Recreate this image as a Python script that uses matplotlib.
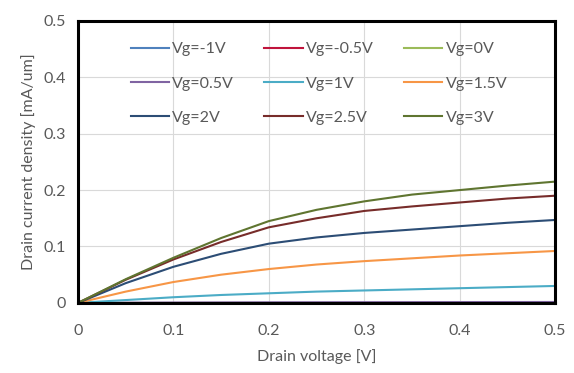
import numpy as np
import matplotlib.pyplot as plt

plt.rcParams['font.family'] = ['Lato', 'DejaVu Sans']

# drain voltage sweep [V]
vd = [0, 0.05, 0.1, 0.15, 0.2, 0.25, 0.3, 0.35, 0.4, 0.45, 0.5]

# drain current density [mA/um] per gate voltage
labels = ['Vg=-1V', 'Vg=-0.5V', 'Vg=0V', 'Vg=0.5V', 'Vg=1V', 'Vg=1.5V',
          'Vg=2V', 'Vg=2.5V', 'Vg=3V']
id_m1 = [0, 0, 0, 0, 0, 0, 0, 0, 0, 0, 0]
id_m05 = [0, 0, 0, 0, 0, 0, 0, 0, 0, 0, 0]
id_0 = [0, 0, 0, 0, 0, 0, 0, 0, 0, 0, 0]
id_05 = [0, 0.0003, 0.0006, 0.0008, 0.001, 0.0011, 0.0012, 0.0013, 0.0014, 0.0015, 0.0016]
id_1 = [0, 0.005, 0.010, 0.014, 0.017, 0.020, 0.022, 0.024, 0.026, 0.028, 0.030]
id_15 = [0, 0.020, 0.037, 0.050, 0.060, 0.068, 0.074, 0.079, 0.084, 0.088, 0.092]
id_2 = [0, 0.035, 0.064, 0.087, 0.105, 0.116, 0.124, 0.130, 0.136, 0.142, 0.147]
id_25 = [0, 0.041, 0.077, 0.108, 0.134, 0.150, 0.163, 0.171, 0.178, 0.185, 0.190]
id_3 = [0, 0.042, 0.080, 0.115, 0.145, 0.165, 0.180, 0.192, 0.200, 0.208, 0.215]

series = [id_m1, id_m05, id_0, id_05, id_1, id_15, id_2, id_25, id_3]
colors = ['#4F81BD', '#C0143C', '#9BBB59', '#8064A2', '#4BACC6', '#F79646',
          '#2C4D75', '#772C2A', '#5F7530']

fig = plt.figure(figsize=(5.74, 3.73), dpi=100)
ax = fig.add_axes([0.136, 0.188, 0.831, 0.756])

handles = []
for y, c, lab in zip(series, colors, labels):
    h, = ax.plot(vd, y, color=c, linewidth=1.5, label=lab)
    handles.append(h)

ax.set_xlim(0, 0.5)
ax.set_ylim(0, 0.5)
ax.set_xticks([0, 0.1, 0.2, 0.3, 0.4, 0.5])
ax.set_xticklabels(['0', '0.1', '0.2', '0.3', '0.4', '0.5'])
ax.set_yticks([0, 0.1, 0.2, 0.3, 0.4, 0.5])
ax.set_yticklabels(['0', '0.1', '0.2', '0.3', '0.4', '0.5'])
ax.grid(True, color='#D9D9D9', linewidth=0.8)
ax.set_axisbelow(True)
for s in ax.spines.values():
    s.set_linewidth(2.2)
    s.set_color('black')
ax.tick_params(length=0, labelsize=11.5, labelcolor='#595959')
ax.tick_params(axis='x', pad=15)
ax.tick_params(axis='y', pad=9)

ax.set_xlabel('Drain voltage [V]', fontsize=11.5, color='#595959', labelpad=8)
ax.set_ylabel('Drain current density [mA/um]', fontsize=11.5, color='#595959', labelpad=5)

# legend is filled row by row, matplotlib fills by column
order = [0, 3, 6, 1, 4, 7, 2, 5, 8]
ax.legend([handles[i] for i in order], [labels[i] for i in order], ncol=3,
          loc='upper left', bbox_to_anchor=(0.08, 0.975), frameon=False,
          fontsize=11.5, labelcolor='#595959', handlelength=2.4, handletextpad=0.2,
          columnspacing=1.9, labelspacing=1.25)

fig.savefig('out.png', dpi=100)
